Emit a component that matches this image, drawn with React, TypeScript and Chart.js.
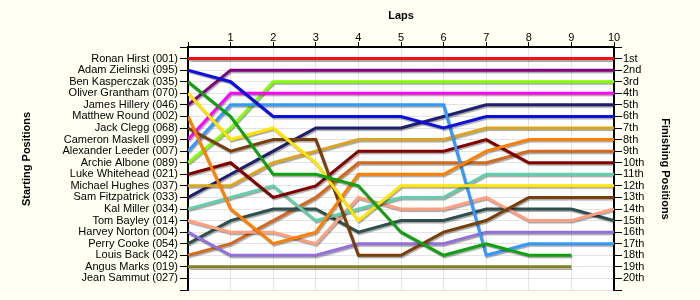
import React, { useEffect, useRef } from "react";
import { Chart, registerables } from "chart.js";

Chart.register(...registerables);

const laps = [0, 1, 2, 3, 4, 5, 6, 7, 8, 9, 10];
const lapTickLabels = ["", "1", "2", "3", "4", "5", "6", "7", "8", "9", "10"];

const startingNames = [
  "Ronan Hirst (001)",
  "Adam Zielinski (095)",
  "Ben Kasperczak (035)",
  "Oliver Grantham (070)",
  "James Hillery (046)",
  "Matthew Round (002)",
  "Jack Clegg (068)",
  "Cameron Maskell (099)",
  "Alexander Leeder (007)",
  "Archie Albone (089)",
  "Luke Whitehead (021)",
  "Michael Hughes (037)",
  "Sam Fitzpatrick (033)",
  "Kal Miller (034)",
  "Tom Bayley (014)",
  "Harvey Norton (004)",
  "Perry Cooke (054)",
  "Louis Back (042)",
  "Angus Marks (019)",
  "Jean Sammut (027)",
];

const finishingLabels = [
  "1st", "2nd", "3rd", "4th", "5th", "6th", "7th", "8th", "9th", "10th",
  "11th", "12th", "13th", "14th", "15th", "16th", "17th", "18th", "19th", "20th",
];

// positions per lap (lap 0 .. lap 10), null = not running
const ronanHirst = [1, 1, 1, 1, 1, 1, 1, 1, 1, 1, 1];
const adamZielinski = [2, 3, 6, 6, 6, 6, 7, 6, 6, 6, 6];
const benKasperczak = [3, 6, 11, 11, 12, 16, 18, 17, 18, 18, null];
const oliverGrantham = [4, 8, 7, 10, 15, 12, 12, 12, 12, 12, 12];
const jamesHillery = [5, 2, 2, 2, 2, 2, 2, 2, 2, 2, 2];
const matthewRound = [6, 14, 17, 16, 11, 11, 11, 9, 8, 8, 8];
const jackClegg = [7, 9, 8, 8, 18, 18, 16, 15, 13, 13, 13];
const cameronMaskell = [8, 4, 4, 4, 4, 4, 4, 4, 4, 4, 4];
const alexanderLeeder = [9, 5, 5, 5, 5, 5, 5, 18, 17, 17, 17];
const archieAlbone = [10, 7, 3, 3, 3, 3, 3, 3, 3, 3, 3];
const lukeWhitehead = [11, 10, 13, 12, 9, 9, 9, 8, 10, 10, 10];
const michaelHughes = [12, 12, 10, 9, 8, 8, 8, 7, 7, 7, 7];
const samFitzpatrick = [13, 11, 9, 7, 7, 7, 6, 5, 5, 5, 5];
const kalMiller = [14, 13, 12, 15, 14, 13, 13, 11, 11, 11, 11];
const tomBayley = [15, 16, 16, 17, 13, 14, 14, 13, 15, 15, 14];
const harveyNorton = [16, 18, 18, 18, 17, 17, 17, 16, 16, 16, 16];
const perryCooke = [17, 15, 14, 14, 16, 15, 15, 14, 14, 14, 15];
const louisBack = [18, 17, 15, 13, 10, 10, 10, 10, 9, 9, 9];
const angusMarks = [19, 19, 19, 19, 19, 19, 19, 19, 19, 19, null];

const driverSeries = [
  ronanHirst, adamZielinski, benKasperczak, oliverGrantham, jamesHillery,
  matthewRound, jackClegg, cameronMaskell, alexanderLeeder, archieAlbone,
  lukeWhitehead, michaelHughes, samFitzpatrick, kalMiller, tomBayley,
  harveyNorton, perryCooke, louisBack, angusMarks,
];

const driverColors = [
  "#EE1111", "#1010DD", "#10A010", "#FFE400", "#800080",
  "#FF8000", "#7A3E08", "#FF00FF", "#3399FF", "#80FF00",
  "#800000", "#DAA520", "#1E1E6E", "#66CDAA", "#FFA080",
  "#9370DB", "#2F4F4F", "#D2691E", "#808020",
];

const FONT = "'Liberation Sans', Arial, sans-serif";

const decorPlugin = {
  id: "decor",
  beforeDraw(chart: any) {
    const { ctx, chartArea } = chart;
    ctx.save();
    ctx.fillStyle = "#FFFFF2";
    ctx.fillRect(0, 0, chart.width, chart.height);
    ctx.fillStyle = "#FFFFFF";
    ctx.fillRect(chartArea.left, chartArea.top, chartArea.right - chartArea.left, chartArea.bottom - chartArea.top);
    ctx.restore();
  },
  beforeDatasetsDraw(chart: any) {
    const ctx = chart.ctx;
    ctx.save();
    ctx.shadowColor = "rgba(0,0,0,0.35)";
    ctx.shadowOffsetX = 1;
    ctx.shadowOffsetY = 1.5;
    ctx.shadowBlur = 1;
  },
  afterDatasetsDraw(chart: any) {
    chart.ctx.restore();
  },
  afterDraw(chart: any) {
    const ctx = chart.ctx;
    ctx.save();
    ctx.fillStyle = "#000";
    ctx.font = "bold 11px " + FONT;
    ctx.textAlign = "center";
    ctx.textBaseline = "middle";
    ctx.fillText("Laps", 401, 16);
    ctx.save();
    ctx.translate(27, 159);
    ctx.rotate(-Math.PI / 2);
    ctx.fillText("Starting Positions", 0, 0);
    ctx.restore();
    ctx.save();
    ctx.translate(665, 169);
    ctx.rotate(Math.PI / 2);
    ctx.fillText("Finishing Positions", 0, 0);
    ctx.restore();
    ctx.restore();
  },
};

export default function App() {
  const ref = useRef<HTMLCanvasElement | null>(null);

  useEffect(() => {
    const prevMargin = document.body.style.margin;
    document.body.style.margin = "0";
    const canvas = ref.current!;
    const datasets = driverSeries.map((series, i) => ({
      label: startingNames[i],
      data: laps.map((lap, j) => ({ x: lap, y: series[j] })),
      borderColor: driverColors[i],
      backgroundColor: driverColors[i],
      borderWidth: 3,
      pointRadius: 0,
      tension: 0,
      fill: false,
      spanGaps: false,
    }));

    const tickFont = { family: FONT, size: 11 };

    const chart = new Chart(canvas, {
      type: "line",
      data: { datasets } as any,
      plugins: [decorPlugin],
      options: {
        animation: false,
        responsive: false,
        devicePixelRatio: 1,
        layout: { padding: { left: 0, right: 0, top: 0, bottom: 10 } },
        plugins: { legend: { display: false }, tooltip: { enabled: false }, title: { display: false } },
        scales: {
          x: {
            type: "linear",
            position: "top",
            min: 0,
            max: 10,
            afterFit: (s: any) => { s.height = 47; },
            afterBuildTicks: (s: any) => { s.ticks = laps.map((v) => ({ value: v })); },
            ticks: {
              color: "#000",
              font: tickFont,
              padding: -3,
              maxRotation: 0,
              autoSkip: false,
              callback: (v: any) => lapTickLabels[laps.indexOf(Number(v))] ?? "",
            },
            grid: { color: "#E4E4E4", tickColor: "#000", tickLength: 5, lineWidth: 1 },
            border: { display: true, color: "#000", width: 2 },
          },
          y: {
            type: "linear",
            position: "left",
            min: 0,
            max: 21,
            reverse: true,
            afterFit: (s: any) => { s.width = 188; },
            afterBuildTicks: (s: any) => {
              const t = [];
              for (let i = 0; i <= 21; i++) t.push({ value: i });
              s.ticks = t;
            },
            ticks: {
              color: "#000",
              font: tickFont,
              padding: 2,
              autoSkip: false,
              callback: (v: any) => {
                const n = Number(v);
                return n >= 1 && n <= 20 ? startingNames[n - 1] : "";
              },
            },
            grid: { color: "#E4E4E4", tickColor: "#000", tickLength: 8, lineWidth: 1 },
            border: { display: true, color: "#000", width: 2 },
          },
          y2: {
            type: "linear",
            position: "right",
            min: 0,
            max: 21,
            reverse: true,
            afterFit: (s: any) => { s.width = 86; },
            afterBuildTicks: (s: any) => {
              const t = [];
              for (let i = 0; i <= 21; i++) t.push({ value: i });
              s.ticks = t;
            },
            ticks: {
              color: "#000",
              font: tickFont,
              padding: 1,
              autoSkip: false,
              callback: (v: any) => {
                const n = Number(v);
                return n >= 1 && n <= 20 ? finishingLabels[n - 1] : "";
              },
            },
            grid: { drawOnChartArea: false, color: "#000", tickColor: "#000", tickLength: 8, lineWidth: 1 },
            border: { display: true, color: "#000", width: 2 },
          },
        },
      } as any,
    });

    return () => {
      chart.destroy();
      document.body.style.margin = prevMargin;
    };
  }, []);

  return (
    <div style={{ position: "absolute", left: 0, top: 0, width: 700, height: 300 }}>
      <canvas ref={ref} width={700} height={300} style={{ display: "block", width: 700, height: 300 }} />
    </div>
  );
}
